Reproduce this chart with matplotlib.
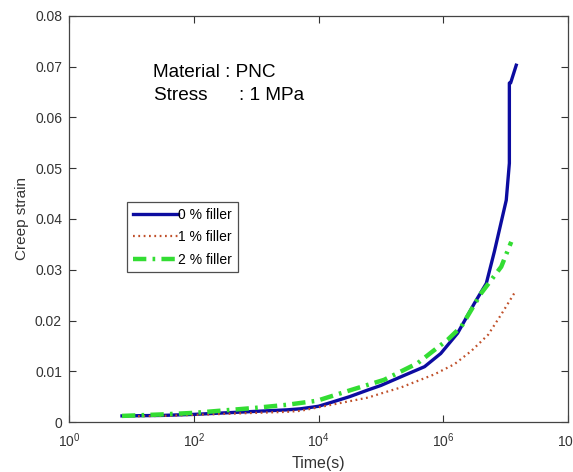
import matplotlib
matplotlib.use("Agg")
import matplotlib.pyplot as plt
import numpy as np
from matplotlib.ticker import FixedLocator, FuncFormatter, NullLocator

plt.rcParams['font.family'] = ['Liberation Sans', 'DejaVu Sans']
plt.rcParams['mathtext.default'] = 'regular'

# log10(time) and creep strain values
blue_logt = [0.85, 1.5, 2.0, 2.5, 3.0, 3.5, 3.71, 4.0, 4.24, 4.5, 4.79, 5.0, 5.32,
             5.70, 5.96, 6.23, 6.50, 6.69, 6.82, 7.01, 7.06, 7.06, 7.08, 7.17]
blue_strain = [0.0012, 0.0013, 0.0015, 0.0018, 0.0021, 0.0024, 0.0026, 0.0031, 0.0040,
               0.0050, 0.0063, 0.0072, 0.0089, 0.0109, 0.0135, 0.0175, 0.0234, 0.0273,
               0.0336, 0.0437, 0.0510, 0.0668, 0.0668, 0.0703]

red_logt = [0.85, 1.5, 2.0, 2.5, 3.0, 3.5, 3.71, 4.25, 4.79, 5.05, 5.32, 5.59, 5.86,
            6.18, 6.45, 6.72, 6.93, 7.14]
red_strain = [0.0011, 0.0012, 0.0014, 0.0016, 0.0018, 0.0020, 0.0022, 0.0035, 0.0048,
              0.0058, 0.0068, 0.0081, 0.0094, 0.0114, 0.0140, 0.0172, 0.0212, 0.0254]

green_logt = [0.85, 1.5, 2.0, 2.5, 3.0, 3.5, 3.98, 4.52, 5.05, 5.59, 5.86, 6.07, 6.29,
              6.45, 6.61, 6.93, 7.09]
green_strain = [0.0012, 0.0015, 0.0018, 0.0023, 0.0028, 0.0034, 0.0042, 0.0063, 0.0083,
                0.0116, 0.0142, 0.0162, 0.0188, 0.0221, 0.0254, 0.0306, 0.0355]

labels = ['0 % filler', '1 % filler', '2 % filler']
x_ticks = [1e0, 1e2, 1e4, 1e6, 1e8]
y_ticks = [0, 0.01, 0.02, 0.03, 0.04, 0.05, 0.06, 0.07, 0.08]

W, H = 573, 472
fig = plt.figure(figsize=(W/100, H/100), dpi=100)
ax = fig.add_axes([69/W, 1-422/H, (568-69)/W, (422-16)/H])

ax.plot(10**np.array(blue_logt), blue_strain, color='#0c0ca0', lw=2.4, label=labels[0])
ax.plot(10**np.array(red_logt), red_strain, color='#c0502a', lw=1.6,
        linestyle=(0, (0.8, 1.6)), label=labels[1])
ax.plot(10**np.array(green_logt), green_strain, color='#33dd33', lw=3.2,
        linestyle=(0, (3, 1.4, 0.6, 1.4)), label=labels[2])

ax.set_xscale('log')
ax.set_xlim(1e0, 1e8)
ax.set_ylim(0, 0.08)
ax.xaxis.set_major_locator(FixedLocator(x_ticks))
ax.xaxis.set_minor_locator(NullLocator())
ax.xaxis.set_major_formatter(FuncFormatter(lambda v, p: r'$10^{%d}$' % round(np.log10(v))))
ax.yaxis.set_major_locator(FixedLocator(y_ticks))
ax.yaxis.set_major_formatter(FuncFormatter(lambda v, p: '0' if v == 0 else '%.2f' % v))

ax.tick_params(direction='in', top=True, right=True, length=5, width=0.8,
               labelsize=10, colors='#333333', pad=5)
ax.tick_params(axis='x', pad=7)
for s in ax.spines.values():
    s.set_color('#444444')
    s.set_linewidth(0.9)

ax.set_xlabel('Time(s)', fontsize=11.5, color='#333333', labelpad=4)
ax.set_ylabel('Creep strain', fontsize=11, color='#333333', labelpad=4)

fig.text(153/W, 1-76.5/H, 'Material : PNC', fontsize=13.7, color='black', va='baseline')
fig.text(154/W, 1-99.5/H, 'Stress      : 1 MPa', fontsize=13.7, color='black', va='baseline')

leg = ax.legend(loc='upper left', bbox_to_anchor=((127-69)/(568-69), (422-202)/(422-16)),
                fontsize=10, frameon=True, fancybox=False, handlelength=3.3,
                handletextpad=0.0, borderpad=0.4, labelspacing=0.62, borderaxespad=0)
leg.get_frame().set_edgecolor('#222222')
leg.get_frame().set_linewidth(0.9)
leg._legend_box.align = 'left'

fig.savefig('out.png', dpi=100)
